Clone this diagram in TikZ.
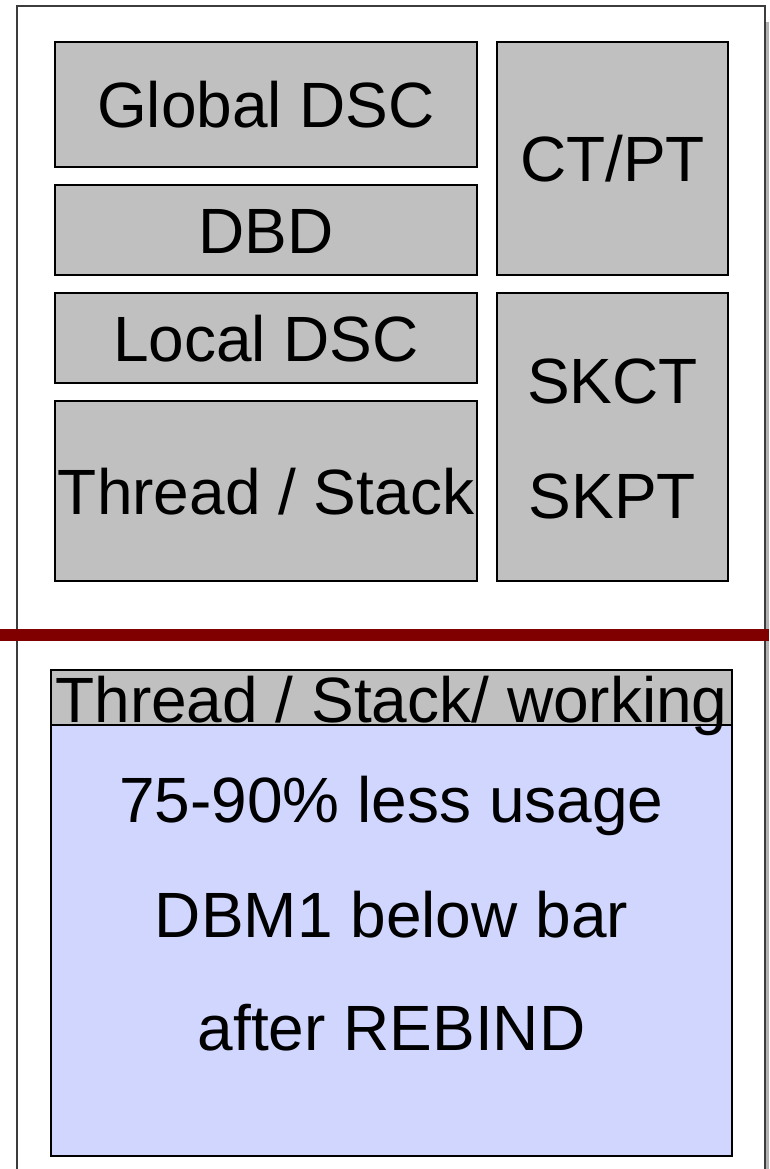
\documentclass[tikz,border=0pt]{standalone}
\usepackage{fontspec}
\setmainfont{Liberation Sans}
\definecolor{boxgray}{RGB}{192,192,192}
\definecolor{bluefill}{RGB}{208,214,254}
\definecolor{barred}{RGB}{128,0,0}
\definecolor{framegray}{RGB}{60,60,60}
\begin{document}
\begin{tikzpicture}[x=1pt,y=-1pt,
  graybox/.style={draw=black,line width=1.5pt,fill=boxgray,rectangle,inner sep=0pt,
    font=\fontsize{64}{76}\selectfont,text height=46pt,text depth=0pt},
  bluebox/.style={draw=black,line width=1.8pt,fill=bluefill,rectangle,inner sep=0pt},
  bigtext/.style={inner sep=0pt,anchor=base,font=\fontsize{64}{76}\selectfont}]
\useasboundingbox (0,0) rectangle (769,1169);
% outer frame
\fill[gray!60] (766,22) rectangle (769,1169);
\draw[framegray,line width=2pt] (17,1169) -- (17,6) -- (765,6) -- (765,1169);
% upper boxes
\node[graybox,minimum width=422pt,minimum height=125pt] (gdsc) at (266,104.5) {Global DSC};
\node[graybox,minimum width=422pt,minimum height=90pt] (dbd) at (266,230) {DBD};
\node[graybox,minimum width=422pt,minimum height=90pt] (ldsc) at (266,338) {Local DSC};
\node[graybox,minimum width=422pt,minimum height=180pt] (thr) at (266,491) {Thread / Stack};
\node[graybox,minimum width=231pt,minimum height=233pt] (ctpt) at (612.5,158.5) {CT/PT};
\node[graybox,minimum width=231pt,minimum height=288pt] (sk) at (612.5,437) {};
\node[bigtext] (skct) at (612.5,403) {SKCT};
\node[bigtext] (skpt) at (612.5,518) {SKPT};
% bar
\fill[barred] (0,629) rectangle (769,641);
% lower box
\node[bluebox,minimum width=681pt,minimum height=431pt] (blue) at (391.5,940.5) {};
\node[graybox,line width=1.8pt,minimum width=681pt,minimum height=55pt] (head) at (391.5,697.5) {};
\node[bigtext] (headtxt) at (391.5,722) {Thread / Stack/ working};
\node[bigtext] (l1) at (391.5,822) {75-90\% less usage};
\node[bigtext] (l2) at (391.5,937) {DBM1 below bar};
\node[bigtext] (l3) at (391.5,1050) {after REBIND};
\end{tikzpicture}
\end{document}
